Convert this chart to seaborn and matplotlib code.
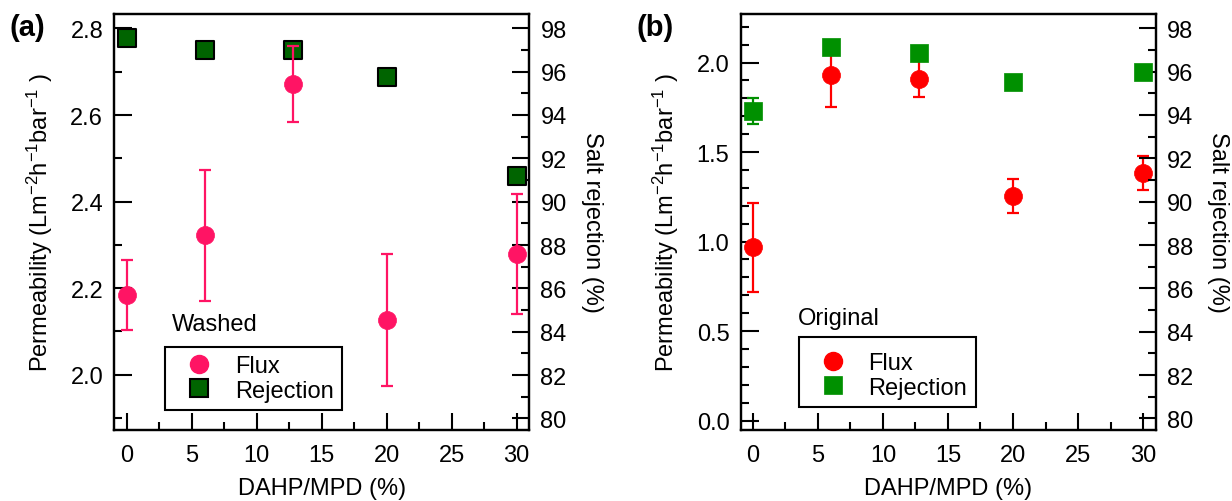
import matplotlib
matplotlib.use('Agg')
import matplotlib.pyplot as plt
import seaborn as sns
from matplotlib.lines import Line2D
from matplotlib.ticker import MultipleLocator

# ---- data ----
dahp = [0, 6, 12.8, 20, 30]

washed_flux = [2.184, 2.322, 2.672, 2.127, 2.279]
washed_flux_err = [0.080, 0.152, 0.088, 0.153, 0.138]
washed_rej = [97.54, 97.0, 97.0, 95.74, 91.2]

orig_flux = [0.968, 1.928, 1.908, 1.256, 1.383]
orig_flux_err = [0.25, 0.175, 0.10, 0.096, 0.095]
orig_rej = [94.2, 97.13, 96.85, 95.51, 95.97]
orig_rej_err = [0.6, 0.12, 0.0, 0.0, 0.0]

legend_labels = ['Flux', 'Rejection']
xlabel = 'DAHP/MPD (%)'
ylabel_left = 'Permeability (Lm$^{-2}$h$^{-1}$bar$^{-1}$ )'
ylabel_right = 'Salt rejection (%)'

sns.set_theme(style='ticks')
plt.rcParams['font.family'] = ['Liberation Sans', 'DejaVu Sans']
plt.rcParams['mathtext.fontset'] = 'custom'
plt.rcParams['mathtext.rm'] = 'Liberation Sans'
plt.rcParams['mathtext.it'] = 'Liberation Sans:italic'
plt.rcParams['mathtext.default'] = 'regular'
for k in ['text.color', 'axes.labelcolor', 'xtick.color', 'ytick.color',
          'axes.edgecolor']:
    plt.rcParams[k] = 'black'

FS = 17
MAJ, MIN, TW = 12.6, 6.1, 1.5

fig = plt.figure(figsize=(12.32, 5.02), dpi=100)
axA = fig.add_axes([0.09278, 0.14203, 0.33685, 0.82809])
axB = fig.add_axes([0.60106, 0.14203, 0.33701, 0.82809])


def style_spines(ax):
    for s in ax.spines.values():
        s.set_linewidth(1.6)
        s.set_color('black')


def panel(ax, flux, flux_err, rej, rej_err, fcol, rcol, redge, ylim, ymaj, ymin,
          title, leg_xy, title_xy, flux_on_top, extra_top=False):
    ax2 = ax.twinx()
    if flux_on_top:
        ax.set_zorder(ax2.get_zorder() + 1)
        ax.patch.set_visible(False)
        top = ax
    else:
        top = ax2

    # flux (left axis)
    ax.errorbar(dahp, flux, yerr=flux_err, fmt='none', ecolor=fcol,
                elinewidth=1.6, capsize=4.2, capthick=1.6, zorder=2)
    sns.scatterplot(x=dahp, y=flux, ax=ax, marker='o', s=13 ** 2, color=fcol,
                    edgecolor=fcol, linewidth=0.5, legend=False, zorder=3)
    # rejection (right axis)
    if any(e > 0 for e in rej_err):
        ax2.errorbar(dahp, rej, yerr=rej_err, fmt='none', ecolor=rcol,
                     elinewidth=1.6, capsize=4.2, capthick=1.6, zorder=2)
    sns.scatterplot(x=dahp, y=rej, ax=ax2, marker='s', s=12.5 ** 2, color=rcol,
                    edgecolor=redge, linewidth=1.5 if redge == 'black' else 0.5,
                    legend=False, zorder=3)

    ax.set_xlim(-0.95, 30.97)
    ax2.set_ylim(79.48, 98.66)
    ax.xaxis.set_major_locator(MultipleLocator(5))
    ax.xaxis.set_minor_locator(MultipleLocator(2.5))
    ax.yaxis.set_major_locator(MultipleLocator(ymaj))
    ax.yaxis.set_minor_locator(MultipleLocator(ymin))
    ax.yaxis.set_major_formatter('{x:.1f}')
    ax2.yaxis.set_major_locator(MultipleLocator(2))
    ax2.yaxis.set_minor_locator(MultipleLocator(1))
    ax.set_ylim(*ylim)

    for a in (ax, ax2):
        style_spines(a)
        a.tick_params(which='both', direction='in', width=TW, colors='black',
                      labelsize=FS, pad=8)
        a.tick_params(which='major', length=MAJ)
        a.tick_params(which='minor', length=MIN)
    ax.tick_params(axis='x', which='both', top=False, bottom=True, pad=10)
    ax.tick_params(axis='y', which='both', left=True, right=False)
    ax2.tick_params(axis='y', which='both', left=False, right=True,
                    labelright=True, labelleft=False)

    ax.set_xlabel(xlabel, fontsize=FS, labelpad=8)
    ax.set_ylabel(ylabel_left, fontsize=FS, labelpad=11)
    ax2.set_ylabel(ylabel_right, fontsize=FS, rotation=270, va='bottom', labelpad=10)

    handles = [
        Line2D([], [], marker='o', linestyle='none', markersize=13,
               markerfacecolor=fcol, markeredgecolor=fcol),
        Line2D([], [], marker='s', linestyle='none', markersize=12.5,
               markerfacecolor=rcol, markeredgecolor=redge,
               markeredgewidth=1.5 if redge == 'black' else 0.5),
    ]
    kw = dict(title=' ', title_fontsize=4) if extra_top else {}
    leg = top.legend(handles, legend_labels, loc='lower left', bbox_to_anchor=leg_xy,
                     bbox_transform=ax.transAxes, borderaxespad=0, frameon=True,
                     fancybox=False, edgecolor='black', framealpha=1, fontsize=FS,
                     borderpad=0.36, handlelength=2.2, handletextpad=0.4,
                     labelspacing=0.1, **kw)
    leg.get_frame().set_linewidth(1.5)
    top.text(title_xy[0], title_xy[1], title, transform=ax.transAxes, ha='left',
             va='center', fontsize=FS)
    return ax2


panel(axA, washed_flux, washed_flux_err, washed_rej, [0] * 5,
      '#FF1464', '#006400', 'black', (1.873, 2.8335), 0.2, 0.1,
      'Washed', (0.122, 0.047), (0.138, 0.254), True)
panel(axB, orig_flux, orig_flux_err, orig_rej, orig_rej_err,
      '#FF0000', '#009000', '#009000', (-0.051, 2.271), 0.5, 0.1,
      'Original', (0.1397, 0.054), (0.138, 0.268), False, extra_top=True)

fig.text(10 / 1232, 1 - 27.5 / 502, '(a)', fontweight='bold', fontsize=21,
         ha='left', va='center')
fig.text(636 / 1232, 1 - 27.5 / 502, '(b)', fontweight='bold', fontsize=21,
         ha='left', va='center')

fig.savefig('out.png', dpi=100)
